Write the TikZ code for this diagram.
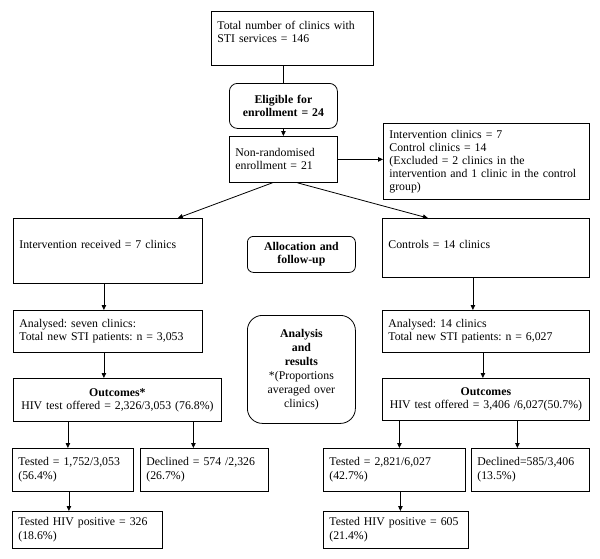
\documentclass[tikz,border=0pt]{standalone}
\usepackage{fontspec}
\setmainfont{Liberation Serif}
\frenchspacing
\usetikzlibrary{calc}
\usetikzlibrary{arrows.meta}

\begin{document}
\begin{tikzpicture}[x=1pt, y=-1pt, font=\fontsize{11.8}{13}\selectfont,
    box/.style={draw, line width=0.8pt, anchor=north west, align=left, inner xsep=6pt, inner ysep=1pt},
    rbox/.style={box, rounded corners=8pt, align=center},
    arr/.style={line width=0.8pt, -{Triangle[length=5pt, width=4.5pt]}}]
    \useasboundingbox (0,0) rectangle (600,558);
    % enrollment
    \node[box, text width=150pt, minimum height=54pt] (total) at (211,11) {Total number of clinics with\\STI services = 146\\ \mbox{}};
    \node[rbox, text width=96pt, minimum height=45pt] (elig) at (229,83) {\textbf{Eligible for}\\\textbf{enrollment = 24}};
    \node[box, text width=96pt, minimum height=46pt] (nonr) at (229,136) {Non-randomised\\enrollment = 21};
    \node[box, text width=194pt, minimum height=76pt] (excl) at (383,123) {Intervention clinics = 7\\Control clinics = 14\\(Excluded = 2 clinics in the\\intervention and 1 clinic in the control\\group)};
    % allocation
    \node[box, text width=177pt, minimum height=65pt] (intv) at (13,218) {Intervention received = 7 clinics\\ \mbox{}};
    \node[rbox, rounded corners=6pt, text width=96pt, minimum height=36pt] (alloc) at (247,236) {\textbf{Allocation and}\\\textbf{follow-up}};
    \node[box, text width=195pt, minimum height=59pt] (ctrl) at (382,218) {Controls = 14 clinics\\[-5pt]\mbox{}};
    % analysis
    \node[box, text width=177pt, minimum height=42pt] (anl1) at (13,310) {Analysed: seven clinics:\\Total new STI patients: n = 3,053};
    \node[rbox, rounded corners=15pt, text width=96pt, minimum height=108pt] (anres) at (247,315) {\textbf{Analysis}\\[1pt]\textbf{and}\\[1pt]\textbf{results}\\[1pt]*(Proportions\\[1pt]averaged over\\[1pt]clinics)};
    \node[box, text width=195pt, minimum height=42pt] (anl2) at (382,310) {Analysed: 14 clinics\\Total new STI patients: n = 6,027};
    % outcomes
    \node[box, align=center, inner xsep=2pt, text width=204pt, minimum height=43pt] (out1) at (13,378) {\textbf{Outcomes*}\\HIV test offered = 2,326/3,053 (76.8\%)};
    \node[box, align=center, inner xsep=2pt, text width=203pt, minimum height=42pt] (out2) at (382,378) {\textbf{Outcomes}\\HIV test offered = 3,406 /6,027(50.7\%)};
    \node[box, text width=109pt, minimum height=43pt] (tst1) at (12,448) {Tested = 1,752/3,053\\[1.5pt](56.4\%)};
    \node[box, text width=116pt, minimum height=43pt] (dec1) at (140,448) {Declined = 574 /2,326\\[1.5pt](26.7\%)};
    \node[box, text width=130pt, minimum height=43pt] (tst2) at (323,448) {Tested = 2,821/6,027\\[1.5pt](42.7\%)};
    \node[box, text width=106pt, minimum height=43pt] (dec2) at (471,448) {Declined=585/3,406\\[1.5pt](13.5\%)};
    \node[box, text width=138pt, minimum height=37pt] (pos1) at (12,511) {Tested HIV positive = 326\\[1.5pt](18.6\%)};
    \node[box, text width=133pt, minimum height=37pt] (pos2) at (323,511) {Tested HIV positive = 605\\[1.5pt](21.4\%)};
    % connector ends
    \coordinate (intvout) at ([xshift=-4pt]intv.south);
    \coordinate (anl1out) at ([xshift=-4pt]anl1.south);
    \coordinate (ctrlout) at ([xshift=-13pt]ctrl.south);
    \coordinate (anl2out) at ([xshift=-3pt]anl2.south);
    \coordinate (tst1in) at ([xshift=-5pt]tst1.north);
    \coordinate (dec1in) at ([xshift=-11pt]dec1.north);
    \coordinate (tst1out) at ([xshift=-4pt]tst1.south);
    \coordinate (tst2in) at ([xshift=5pt]tst2.north);
    \coordinate (dec2in) at ([xshift=-13pt]dec2.north);
    \coordinate (tst2out) at ([xshift=6pt]tst2.south);
    % connectors
    \draw[line width=0.8pt] (elig.north |- total.south) -- (elig.north);
    \draw[arr] (elig.south) -- (nonr.north);
    \draw[arr] (nonr.east) -- (nonr.east -| excl.west);
    \draw[arr] ([xshift=-11pt]nonr.south) -- ([xshift=70pt]intv.north);
    \draw[arr] ([xshift=14pt]nonr.south) -- ([xshift=-58pt]ctrl.north);
    \draw[arr] (intvout) -- (intvout |- anl1.north);
    \draw[arr] (anl1out) -- (anl1out |- out1.north);
    \draw[arr] (ctrlout) -- (ctrlout |- anl2.north);
    \draw[arr] (anl2out) -- (anl2out |- out2.north);
    \draw[arr] (tst1in |- out1.south) -- (tst1in);
    \draw[arr] (dec1in |- out1.south) -- (dec1in);
    \draw[arr] (tst1out) -- (tst1out |- pos1.north);
    \draw[arr] (tst2in |- out2.south) -- (tst2in);
    \draw[arr] (dec2in |- out2.south) -- (dec2in);
    \draw[arr] (tst2out) -- (tst2out |- pos2.north);
\end{tikzpicture}
\end{document}
